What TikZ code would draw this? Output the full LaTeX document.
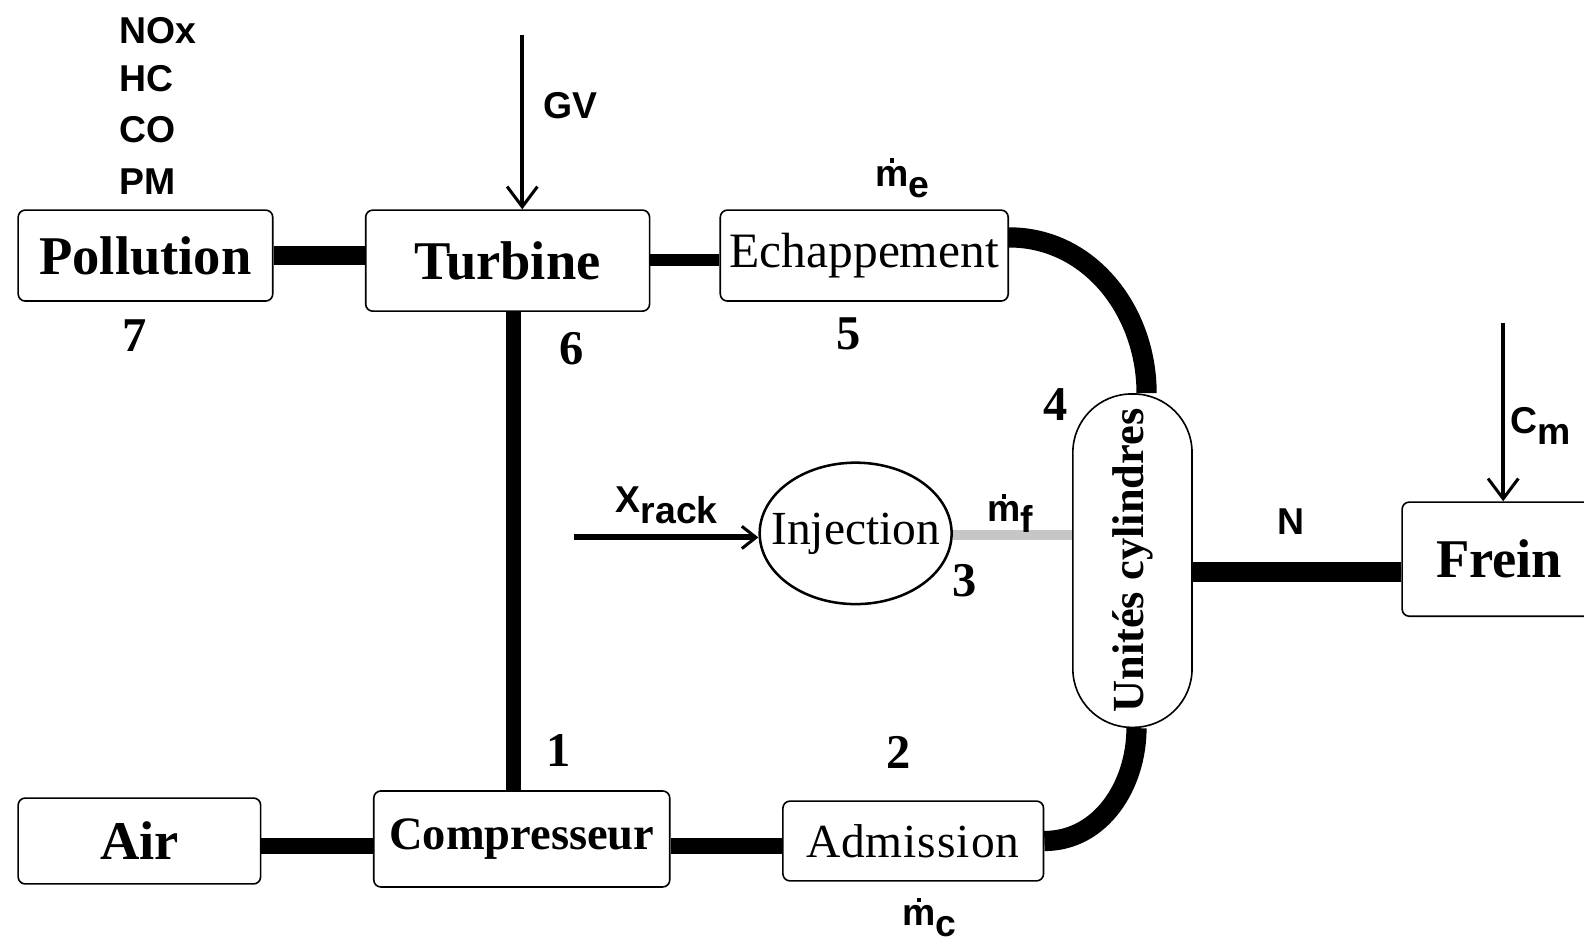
\documentclass[tikz,border=0pt]{standalone}
\usepackage{fontspec}
\setmainfont{Liberation Serif}
\newfontfamily\lsans{Liberation Sans}
\usetikzlibrary{arrows.meta,shapes.geometric}
\newcommand\mdt{\ooalign{m\cr\hidewidth\raisebox{.62em}{\rule{.11em}{.13em}}\hidewidth\cr}}
\tikzset{
  blk/.style={draw, line width=1.6pt, rounded corners=7pt, inner sep=0pt, fill=white},
  bigb/.style={font=\fontsize{54}{60}\selectfont\bfseries},
  medb/.style={font=\fontsize{46}{50}\selectfont\bfseries},
  medr/.style={font=\fontsize{47}{50}\selectfont},
  lab/.style={font=\lsans\bfseries\fontsize{37}{40}\selectfont, inner sep=0pt},
  num/.style={font=\fontsize{48}{52}\selectfont\bfseries, inner sep=0pt},
  conn/.style={draw=black, line width=#1},
  inarrow/.style={draw=black, line width=4pt, -{Straight Barb[length=20pt,width=30pt,line width=3pt]}}
}
\begin{document}
\begin{tikzpicture}[x=1pt,y=-1pt]
\useasboundingbox[fill=white] (0,0) rectangle (1568,941);
% blocks
\node[blk, bigb, minimum width=252pt, minimum height=90pt] (pol) at (144,253) {Pollution};
\node[blk, bigb, minimum width=281pt, minimum height=100pt] (tur) at (502.5,258) {Turbine};
\node[blk, font=\fontsize{49}{52}\selectfont, minimum width=285pt, minimum height=90pt] (ech) at (855.5,253) {Echappement};
\node[blk, minimum width=118pt, minimum height=330pt, rounded corners=58pt] (cyl) at (1121,555) {};
\node[rotate=90, font=\fontsize{44}{46}\selectfont\bfseries, inner sep=0pt] (cyltxt) at (cyl) {Unités cylindres};
\node[draw, line width=2.5pt, ellipse, minimum width=190pt, minimum height=140pt, inner sep=0pt] (inj) at (847,528) {};
\node[medr, inner sep=0pt] (injtxt) at (inj) {Injection};
\node[blk, bigb, minimum width=192pt, minimum height=113pt] (frein) at (1484,553.5) {Frein};
\node[blk, bigb, minimum width=240pt, minimum height=85pt] (air) at (138,832.5) {Air};
\node[blk, medb, minimum width=293pt, minimum height=95pt] (comp) at (516.5,830.5) {Compresseur};
\node[blk, medr, minimum width=258pt, minimum height=79pt] (adm) at (904,832.5) {Ad\kern1pt m\kern1pt i\kern1pt s\kern1pt s\kern1pt i\kern1pt o\kern1pt n};
% connectors
\draw[conn=18pt] (pol.east) -- (pol.east -| tur.west);
\draw[conn=12pt] ([yshift=-4pt]ech.west) -- ([yshift=-4pt]ech.west -| tur.east);
\draw[conn=15pt] ([xshift=5.5pt]tur.south) -- ([xshift=5.5pt]tur.south |- comp.north);
\draw[conn=20pt] ([yshift=18pt]ech.east) to[out=0,in=90] ([xshift=14pt]cyl.north);
\draw[conn=20pt] ([xshift=4pt]cyl.south) to[out=-90,in=0] (adm.east);
\draw[conn=20pt] ([yshift=-11pt]cyl.east) -- ([yshift=-11pt]cyl.east -| frein.west);
\draw[conn=16pt] ([yshift=-5pt]air.east) -- ([yshift=-5pt]air.east -| comp.west);
\draw[conn=16pt] ([yshift=-7pt]comp.east) -- ([yshift=-7pt]comp.east -| adm.west);
\draw[draw=gray!45, line width=10pt] ([yshift=-2pt]inj.east) -- ([yshift=-2pt]inj.east -| cyl.west);
\coordinate (xr) at (568,532);
\draw[draw=black, line width=6pt, -{Straight Barb[length=14pt,width=22pt,line width=3pt]}] (xr) -- (xr -| inj.west);
\coordinate (gvtop) at (517,35);
\draw[inarrow] (gvtop) -- (gvtop |- tur.north);
\coordinate (cmtop) at (1488,320);
\draw[inarrow] (cmtop) -- (cmtop |- frein.north);
% labels
\node[lab, anchor=west] (nox) at (118,30) {NOx};
\node[lab, anchor=west] (hc) at (118,78) {HC};
\node[lab, anchor=west] (co) at (118,128) {CO};
\node[lab, anchor=west] (pm) at (118,180) {PM};
\node[lab, anchor=west] (gv) at (538,105) {GV};
\node[lab] (me) at (893,180) {\mdt\raisebox{-.3em}{e}};
\node[lab] (mc) at (920,912) {\mdt\raisebox{-.3em}{c}};
\node[lab] (mf) at (1000,512) {\mdt\raisebox{-.3em}{f}};
\node[lab] (nl) at (1278,516) {N};
\node[lab] (xrack) at (660,500) {X\raisebox{-.3em}{rack}};
\node[lab] (cm) at (1525,422) {C\raisebox{-.3em}{m}};
\node[num] (n7) at (133,332) {7};
\node[num] (n6) at (566,345) {6};
\node[num] (n5) at (840,330) {5};
\node[num] (n4) at (1045,400) {4};
\node[num] (n3) at (955,575) {3};
\node[num] (n1) at (553,743) {1};
\node[num] (n2) at (890,745) {2};
\end{tikzpicture}
\end{document}
